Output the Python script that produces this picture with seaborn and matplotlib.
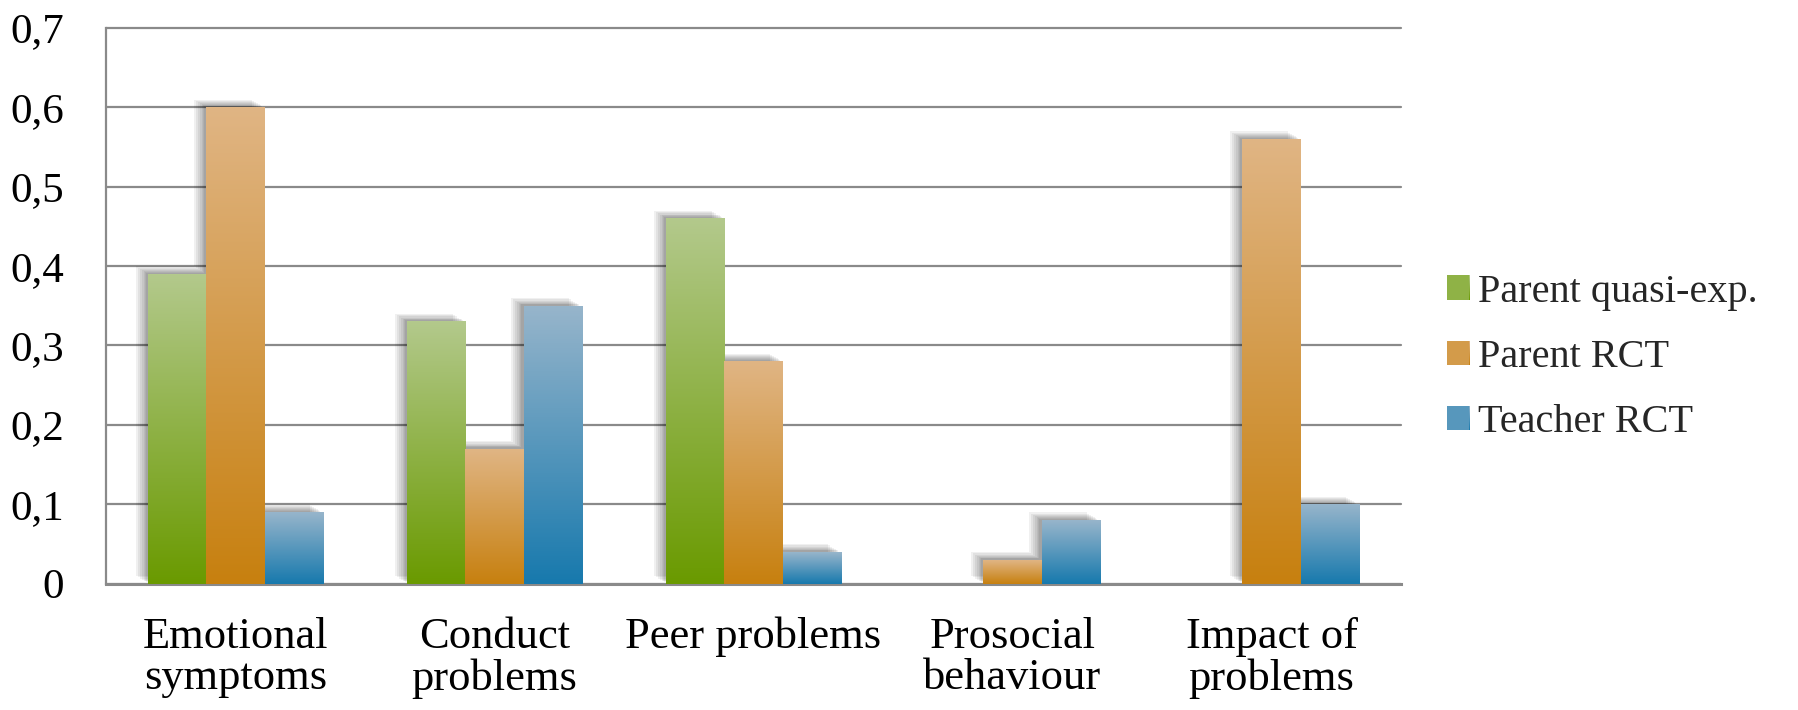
import numpy as np
import pandas as pd
import seaborn as sns
import matplotlib.pyplot as plt
import matplotlib.patheffects as pe
from matplotlib.colors import LinearSegmentedColormap, to_rgb
from matplotlib.patches import Patch

categories = ["Emotional\nsymptoms", "Conduct\nproblems", "Peer problems",
              "Prosocial\nbehaviour", "Impact of\nproblems"]
series = ["Parent quasi-exp.", "Parent RCT", "Teacher RCT"]
parent_quasi = [0.39, 0.33, 0.46, np.nan, np.nan]
parent_rct = [0.60, 0.17, 0.28, 0.03, 0.56]
teacher_rct = [0.09, 0.35, 0.04, 0.08, 0.10]
yticks = [0, 0.1, 0.2, 0.3, 0.4, 0.5, 0.6, 0.7]

top_colors = ["#b3c98c", "#e0b584", "#97b5cb"]
bottom_colors = ["#6a9a00", "#c7800f", "#1779ad"]
mid_colors = [tuple((np.array(to_rgb(t)) + np.array(to_rgb(b))) / 2)
              for t, b in zip(top_colors, bottom_colors)]

df = pd.DataFrame({
    "category": categories * 3,
    "series": np.repeat(series, len(categories)),
    "value": parent_quasi + parent_rct + teacher_rct,
})

sns.set_theme(style="white")
plt.rcParams["font.family"] = ["Liberation Serif", "DejaVu Serif"]

W, H = 1798, 710
fig = plt.figure(figsize=(W / 100, H / 100), dpi=100)
ax = fig.add_axes([106 / W, 1 - 583.5 / H, 1295 / W, (583.5 - 27.7) / H])

sns.barplot(data=df, x="category", y="value", hue="series", hue_order=series,
            order=categories, palette=mid_colors, saturation=1, width=0.672,
            errorbar=None, legend=False, ax=ax, zorder=3, linewidth=0)

grey = "#8a8a8a"
ax.set_yticks(yticks)
ax.set_yticklabels(["0" if v == 0 else f"{v:.1f}".replace(".", ",") for v in yticks])
ax.yaxis.grid(True, color=grey, linewidth=1.6, zorder=0)
ax.set_axisbelow(True)
for ln in ax.get_ygridlines():
    ln.set_clip_on(False)
for s in ["top", "right"]:
    ax.spines[s].set_visible(False)
ax.spines["left"].set_color(grey)
ax.spines["left"].set_linewidth(1.6)
ax.spines["bottom"].set_color(grey)
ax.spines["bottom"].set_linewidth(2.2)
ax.tick_params(axis="y", length=0, pad=30, labelsize=31, labelcolor="black")
ax.tick_params(axis="x", length=0, pad=24, labelsize=32, labelcolor="black")
for lab in ax.get_xticklabels():
    lab.set_linespacing(1.05)
ax.set_xlabel("")
ax.set_ylabel("")

# gradient fill + soft shadow for each bar
shadow = [pe.SimplePatchShadow(offset=(-d, d * 0.6), shadow_rgbFace="black", alpha=0.06)
          for d in (9, 7.5, 6, 4.5, 3.5, 2.5, 1.5)] + [pe.Normal()]
for cont, top, bot in zip(ax.containers, top_colors, bottom_colors):
    cmap = LinearSegmentedColormap.from_list("g", [bot, top])
    for bar in cont:
        h = bar.get_height()
        if not np.isfinite(h) or h <= 0:
            continue
        bar.set_path_effects(shadow)
        x0, w = bar.get_x(), bar.get_width()
        grad = np.linspace(0, 1, 256).reshape(-1, 1)
        ax.imshow(grad, extent=[x0, x0 + w, 0, h], origin="lower", cmap=cmap,
                  aspect="auto", zorder=4, interpolation="bilinear")
ax.set_ylim(0, 0.7)
ax.set_xlim(-0.5, len(categories) - 0.5)

handles = [Patch(facecolor=c, edgecolor="none") for c in mid_colors]
leg = fig.legend(handles, series, loc="center left",
                 bbox_to_anchor=(1447 / W, 1 - 357.5 / H), frameon=False,
                 fontsize=29, handlelength=0.55, handleheight=0.55,
                 handletextpad=0.22, labelspacing=0.7, borderpad=0,
                 borderaxespad=0)

fig.canvas.draw()
inv = fig.transFigure.inverted()
for hnd, top, bot in zip(leg.legend_handles, top_colors, bottom_colors):
    bb = hnd.get_window_extent().transformed(inv)
    lax = fig.add_axes([bb.x0, bb.y0, bb.width, bb.height])
    lax.imshow(np.linspace(0, 1, 64).reshape(-1, 1), origin="lower", aspect="auto",
               cmap=LinearSegmentedColormap.from_list("g", [bot, top]))
    lax.axis("off")

fig.savefig("out.png", dpi=100)
